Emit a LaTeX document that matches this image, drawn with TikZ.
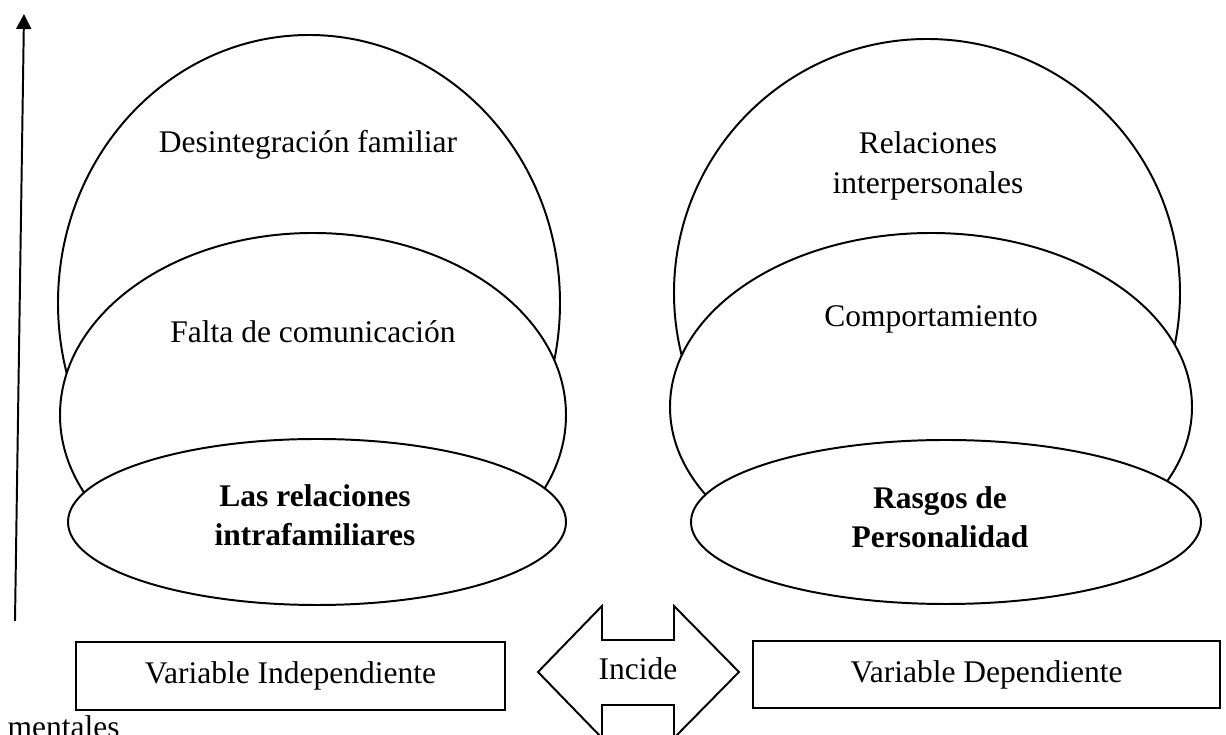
\documentclass[tikz,border=0pt]{standalone}
\usepackage{fontspec}
\setmainfont{Liberation Serif}
\usepackage{tikz}
\usetikzlibrary{arrows.meta}

\begin{document}
\begin{tikzpicture}[x=0.025cm,y=0.025cm,line width=1.4pt,
  txt/.style={font=\fontsize{22.4}{28}\selectfont, align=center},
  negrita/.style={txt, font=\fontsize{22.4}{28}\selectfont\bfseries},
  caja/.style={draw, txt, minimum height=1.68cm}]
\useasboundingbox (0,0) rectangle (1226,735);
% eje vertical
\coordinate (ejeA) at (15,114);
\coordinate (ejeB) at (24,721);
\draw[-{Triangle[length=0.375cm,width=0.375cm]}] (ejeA) -- (ejeB);
% variable independiente
\draw[fill=white] (309,432) ellipse (251 and 268);
\draw[fill=white] (313,320) ellipse (253 and 182);
\draw[fill=white] (317,213) ellipse (249 and 83);
\node[txt, anchor=base] (desint) at (308,582) {Desintegración familiar};
\node[txt, anchor=base] (falta) at (313,392) {Falta de comunicación};
\node[negrita] (lasrel) at (315,220) {Las relaciones\\intrafamiliares};
% variable dependiente
\draw[fill=white] (927,442) ellipse (253 and 254);
\draw[fill=white] (931,328) ellipse (261 and 174);
\draw[fill=white] (946,213) ellipse (255 and 82);
\node[txt] (relac) at (928,569) {Relaciones\\interpersonales};
\node[txt, anchor=base] (comport) at (931,408) {Comportamiento};
\node[negrita] (rasgos) at (940,218) {Rasgos de\\Personalidad};
% cajas
\node[caja, minimum width=10.725cm] (vi) at (290.5,59) {Variable Independiente};
\node[caja, minimum width=11.675cm] (vd) at (986.5,60.5) {Variable Dependiente};
% flecha doble
\draw (538,63) -- (602,129) -- (602,95) -- (674,95) -- (674,129) -- (739,63)
  -- (674,-3) -- (674,30) -- (602,30) -- (602,-3) -- cycle;
\node[txt, anchor=base] (incide) at (638,55) {Incide};
\node[txt, anchor=base west] (ment) at (2,-3) {mentales};
\end{tikzpicture}
\end{document}
